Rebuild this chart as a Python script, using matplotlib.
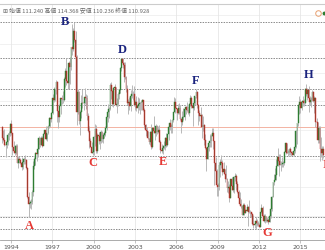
import matplotlib
matplotlib.use("Agg")
import matplotlib.pyplot as plt
import numpy as np

# ===[DATA]=== USD/JPY monthly candles, May 1993 .. Sep 2016
start_year, start_month = 1993, 5
first_open = 111.1
closes = [
    107.3, 106.5, 104.8, 104.6, 105.9, 108.2, 109.0, 111.9,  # 1993
    108.9, 104.0, 102.7, 101.9, 104.5, 98.5, 100.0, 99.6, 98.6, 97.2, 98.9, 99.7,  # 1994
    99.4, 96.8, 86.5, 84.0, 84.4, 84.7, 88.4, 97.5, 99.8, 101.9, 101.7, 103.5,  # 1995
    107.2, 104.9, 107.3, 104.5, 108.6, 109.8, 106.7, 108.9, 111.4, 114.3, 113.7, 115.9,  # 1996
    121.2, 120.4, 124.1, 126.8, 116.5, 114.6, 118.4, 121.0, 120.7, 120.5, 127.7, 130.5,  # 1997
    126.9, 126.4, 133.2, 132.1, 138.8, 138.4, 144.5, 141.5, 135.6, 116.4, 123.4, 113.1,  # 1998
    116.3, 119.5, 119.4, 119.5, 121.5, 121.0, 114.8, 109.6, 106.1, 104.1, 102.1, 102.2,  # 1999
    107.4, 110.3, 102.8, 108.2, 107.8, 106.1, 109.4, 106.7, 108.2, 109.0, 110.5, 114.4,  # 2000
    116.4, 117.4, 125.5, 123.6, 118.9, 124.7, 124.9, 118.8, 119.2, 122.4, 123.8, 131.6,  # 2001
    134.7, 133.3, 132.7, 128.5, 124.1, 119.5, 119.8, 118.4, 121.7, 122.5, 122.5, 118.7,  # 2002
    119.9, 117.7, 118.2, 119.0, 119.4, 119.8, 120.5, 116.8, 111.6, 109.8, 109.6, 107.2,  # 2003
    105.9, 109.1, 104.2, 110.5, 109.5, 108.8, 111.5, 109.2, 110.1, 105.8, 103.1, 102.6,  # 2004
    103.6, 104.5, 107.1, 104.7, 108.4, 110.9, 112.5, 111.1, 113.5, 116.4, 119.8, 117.8,  # 2005
    117.2, 115.8, 117.5, 113.8, 112.6, 114.4, 114.6, 117.3, 118.1, 116.9, 115.8, 119.0,  # 2006
    121.0, 118.5, 117.8, 119.5, 121.7, 123.2, 118.6, 115.8, 114.8, 115.3, 111.1, 111.7,  # 2007
    106.4, 103.8, 99.7, 104.0, 105.5, 106.2, 107.9, 108.8, 106.0, 98.4, 95.5, 90.6,  # 2008
    89.9, 97.6, 98.9, 98.6, 95.3, 96.4, 94.7, 93.0, 89.7, 90.2, 86.3, 93.0,  # 2009
    90.3, 88.9, 93.4, 93.9, 91.2, 88.4, 86.4, 84.2, 83.5, 80.4, 83.7, 81.1,  # 2010
    82.1, 81.8, 83.1, 81.2, 81.5, 80.5, 77.0, 76.7, 77.1, 78.1, 77.6, 76.9,  # 2011
    76.2, 81.2, 82.9, 80.0, 78.3, 79.8, 78.1, 78.4, 77.9, 79.8, 82.5, 86.7,  # 2012
    91.7, 92.6, 94.2, 97.5, 100.5, 99.1, 97.9, 98.2, 98.3, 98.4, 102.4, 105.3,  # 2013
    102.0, 101.8, 103.2, 102.2, 101.8, 101.3, 102.8, 104.1, 109.7, 112.3, 118.6, 119.8,  # 2014
    117.5, 119.6, 120.1, 119.4, 124.1, 122.5, 123.9, 121.2, 119.9, 120.6, 123.1, 120.2,  # 2015
    121.0, 112.7, 112.6, 106.5, 110.7, 103.2, 102.1, 103.4, 101.3,  # 2016
]
highs = [
    111.2, 110.0, 110.2, 106.0, 107.5, 108.8, 109.5, 112.5,  # 1993
    113.6, 108.9, 106.1, 104.6, 105.0, 105.0, 100.9, 100.8, 100.2, 100.4, 99.3, 100.6,  # 1994
    101.3, 99.8, 97.0, 88.2, 85.5, 85.8, 89.0, 99.1, 100.6, 102.4, 102.2, 103.9,  # 1995
    107.9, 107.4, 107.8, 108.0, 108.8, 110.1, 111.4, 109.0, 111.6, 114.6, 114.2, 116.3,  # 1996
    122.5, 124.8, 124.2, 127.4, 127.0, 116.3, 118.9, 121.3, 122.3, 123.6, 128.4, 131.6,  # 1997
    135.2, 127.5, 134.0, 135.6, 139.0, 146.8, 145.6, 147.66, 144.5, 136.0, 124.2, 123.5,  # 1998
    117.0, 122.2, 124.2, 121.4, 124.7, 122.7, 122.3, 116.0, 111.2, 107.0, 105.7, 104.4,  # 1999
    107.8, 112.1, 111.6, 108.9, 109.4, 108.8, 109.8, 109.5, 108.8, 109.6, 111.4, 114.7,  # 2000
    119.0, 118.0, 126.2, 126.8, 124.0, 125.0, 126.0, 124.9, 121.3, 123.2, 124.3, 131.9,  # 2001
    135.2, 135.1, 133.8, 133.6, 128.9, 125.7, 120.8, 121.4, 123.8, 125.6, 123.6, 125.4,  # 2002
    120.6, 121.7, 121.4, 121.1, 119.6, 120.3, 120.9, 120.4, 117.5, 112.2, 111.0, 109.7,  # 2003
    107.3, 109.6, 112.2, 110.6, 114.9, 111.0, 112.1, 111.8, 111.5, 111.8, 106.4, 105.0,  # 2004
    104.6, 106.0, 107.6, 108.9, 108.6, 111.2, 113.7, 112.2, 113.7, 116.4, 121.4, 121.0,  # 2005
    117.5, 119.1, 119.5, 118.6, 114.1, 116.6, 117.8, 117.7, 118.4, 119.9, 118.2, 119.3,  # 2006
    122.2, 122.0, 118.2, 120.0, 121.9, 124.14, 123.7, 119.2, 117.0, 117.9, 115.6, 114.7,  # 2007
    111.9, 108.6, 104.0, 104.6, 105.5, 108.5, 108.6, 110.6, 110.6, 106.2, 100.5, 96.3,  # 2008
    91.3, 98.9, 99.7, 101.4, 99.6, 98.9, 96.3, 97.8, 93.3, 92.2, 91.1, 93.0,  # 2009
    93.7, 91.6, 93.9, 95.0, 94.7, 92.2, 89.0, 88.2, 85.9, 83.8, 84.4, 84.5,  # 2010
    83.7, 84.0, 83.3, 85.5, 82.0, 81.5, 81.1, 80.3, 77.9, 79.5, 79.0, 78.3,  # 2011
    77.4, 81.2, 84.2, 83.3, 80.5, 80.6, 79.9, 79.6, 79.2, 80.4, 82.8, 86.8,  # 2012
    91.7, 94.5, 96.7, 99.9, 103.7, 101.5, 101.5, 99.1, 100.6, 99.0, 102.6, 105.4,  # 2013
    105.4, 103.0, 103.7, 104.1, 102.7, 102.8, 103.1, 104.5, 110.1, 112.5, 119.0, 121.8,  # 2014
    120.8, 120.5, 122.0, 120.8, 124.5, 125.86, 124.6, 125.3, 121.8, 121.5, 123.8, 123.7,  # 2015
    121.7, 121.5, 114.0, 112.7, 111.4, 111.4, 107.5, 104.3, 104.3,  # 2016
]
lows = [
    105.4, 106.0, 104.5, 100.4, 103.8, 104.8, 106.5, 107.8,  # 1993
    108.1, 101.3, 101.8, 101.3, 101.6, 98.4, 96.6, 98.5, 98.1, 96.1, 96.4, 98.2,  # 1994
    98.2, 96.5, 86.3, 79.75, 82.6, 82.5, 84.2, 86.9, 96.5, 97.8, 99.3, 100.7,  # 1995
    103.3, 103.9, 104.9, 104.1, 104.6, 107.6, 106.6, 106.1, 108.6, 110.8, 110.9, 112.8,  # 1996
    115.6, 119.9, 120.0, 122.6, 112.9, 110.6, 112.9, 115.5, 119.0, 119.4, 120.1, 125.0,  # 1997
    125.5, 124.1, 124.2, 126.1, 130.8, 136.3, 137.5, 140.8, 130.9, 111.6, 115.5, 112.2,  # 1998
    108.3, 114.2, 117.7, 116.9, 118.9, 117.2, 113.6, 109.3, 103.7, 104.0, 101.9, 101.25,  # 1999
    101.4, 104.3, 102.0, 101.9, 105.0, 103.5, 105.4, 105.6, 105.5, 107.2, 107.7, 109.9,  # 2000
    112.8, 114.2, 117.0, 120.8, 118.3, 118.1, 123.3, 118.2, 115.8, 118.5, 120.7, 123.0,  # 2001
    130.4, 131.6, 126.7, 127.8, 123.1, 118.7, 115.6, 116.9, 116.5, 121.3, 120.6, 118.4,  # 2002
    117.1, 116.7, 115.9, 117.0, 115.6, 116.8, 116.9, 116.7, 110.8, 107.9, 107.6, 106.7,  # 2003
    105.0, 104.9, 103.4, 103.6, 108.9, 106.5, 107.8, 108.7, 108.9, 105.6, 102.1, 101.8,  # 2004
    101.7, 103.3, 103.0, 104.0, 104.3, 106.6, 109.8, 108.8, 108.9, 112.9, 116.2, 115.8,  # 2005
    113.4, 115.6, 115.5, 113.4, 108.9, 111.8, 113.3, 113.5, 115.6, 116.6, 115.4, 114.9,  # 2006
    118.4, 117.5, 111.5, 117.0, 118.7, 121.3, 117.8, 111.6, 113.0, 113.6, 107.2, 109.7,  # 2007
    104.9, 103.4, 95.8, 99.9, 102.5, 103.9, 104.0, 107.7, 103.5, 90.9, 92.5, 87.1,  # 2008
    87.1, 88.9, 93.5, 96.8, 94.4, 94.5, 91.7, 92.7, 88.2, 88.0, 84.8, 86.2,  # 2009
    88.9, 88.2, 88.1, 92.0, 88.9, 88.1, 86.2, 83.6, 82.8, 80.2, 80.3, 80.2,  # 2010
    81.0, 81.6, 76.3, 81.1, 79.6, 79.7, 76.9, 75.9, 75.9, 75.57, 76.6, 76.6,  # 2011
    76.0, 76.1, 80.9, 79.7, 77.7, 77.6, 77.9, 78.0, 77.1, 77.9, 79.4, 81.7,  # 2012
    86.5, 90.8, 92.6, 92.6, 97.3, 93.8, 97.6, 95.8, 97.0, 96.9, 97.6, 101.6,  # 2013
    101.8, 100.8, 101.2, 101.4, 100.8, 101.1, 101.0, 102.0, 103.8, 105.2, 111.4, 115.6,  # 2014
    115.9, 116.9, 118.3, 118.5, 118.9, 122.0, 120.4, 116.2, 118.6, 118.1, 120.2, 119.9,  # 2015
    115.97, 110.99, 110.7, 105.5, 105.5, 99.0, 100.6, 99.5, 100.1,  # 2016
]
last_price = 110.928
header = "⊞ 始値 111.240 高値 114.368 安値 110.236 終値 110.928"
levels = [147.66, 135.2, 124.14, 118.7, 101.0, 79.75, 75.57]
year_ticks = [1994, 1997, 2000, 2003, 2006, 2009, 2012, 2015]
# wave labels: letter, date, pivot price, offset in px (dx, dy), peak?
waves = [
    ("A", 1995.25, 79.75, (1, -9), False),
    ("B", 1998.6, 147.66, (-9, 0), True),
    ("C", 1999.95, 101.25, (0, -8), False),
    ("D", 2002.0, 135.2, (1, 8), True),
    ("E", 2005.0, 101.7, (0, -8), False),
    ("F", 2007.45, 124.14, (-1, 8), True),
    ("G", 2011.8, 75.57, (11, -4), False),
    ("H", 2015.45, 125.86, (2, 9), True),
    ("I", 2016.7, 99.0, (1, -4), False),
]

# ===[PLOT]===
n = len(closes)
months = start_month - 1 + np.arange(n)
t = start_year + months // 12 + (months % 12) / 12.0 + 0.02
opens = np.array([first_open] + closes[:-1])
closes = np.array(closes)
highs = np.array(highs)
lows = np.array(lows)
up = closes >= opens

fig = plt.figure(figsize=(3.25, 2.5), dpi=100)
ax = fig.add_axes([0, 0.04, 1, 0.944])

for y in range(80, 160, 10):
    ax.axhline(y, color="#efefef", lw=0.6, zorder=0)
for x in year_ticks:
    ax.axvline(x, color="#e6e6e6", lw=0.6, zorder=0)
for lv in levels:
    ax.axhline(lv, color="#8a8a8a", lw=0.7, ls=(0, (1.5, 1.2)), zorder=1)
ax.axhline(last_price, color="#f3b3a3", lw=0.7, zorder=1)

ax.vlines(t, lows, highs, color="#b8b8b8", lw=0.7, zorder=2)
bw = 1 / 12 * 0.75
ax.bar(t[up], closes[up] - opens[up], bottom=opens[up], width=bw,
       color="#2e7d32", edgecolor="#2e7d32", lw=0.3, zorder=3)
ax.bar(t[~up], opens[~up] - closes[~up], bottom=closes[~up], width=bw,
       color="#8d4a32", edgecolor="#c62828", lw=0.3, zorder=3)

for name, d, p, off, peak in waves:
    ax.annotate(name, (d, p), xytext=off, textcoords="offset pixels",
                ha="center", va="center", fontsize=9, fontweight="bold",
                family="Liberation Serif",
                color="#1a237e" if peak else "#e53935", zorder=5)

ax.set_xlim(1993.2, 2016.8)
ax.set_ylim(71.57, 153.94)
ax.set_xticks(year_ticks)
ax.set_xticklabels([str(y) for y in year_ticks], fontsize=4.5, color="#555555")
ax.tick_params(axis="x", length=2, width=0.5, color="#aaaaaa", pad=1.5)
ax.set_yticks([])
for s in ["left", "right"]:
    ax.spines[s].set_visible(False)
ax.spines["bottom"].set_color("#9e9e9e")
ax.spines["bottom"].set_linewidth(0.6)
ax.spines["top"].set_color("#cccccc")
ax.spines["top"].set_linewidth(0.8)

fig.text(3 / 325, 1 - 11.5 / 250, header, fontsize=4.2, color="#666666",
         va="center", family=["Noto Sans CJK JP", "DejaVu Sans"])
ax.plot([0.978], [0.962], "o", ms=4, mfc="none", mec="#e8a070", mew=0.7,
        transform=ax.transAxes, clip_on=False)
ax.plot([0.997], [0.962], "o", ms=1.8, color="#2e7d32",
        transform=ax.transAxes, clip_on=False)

fig.savefig("out.png", dpi=100)
